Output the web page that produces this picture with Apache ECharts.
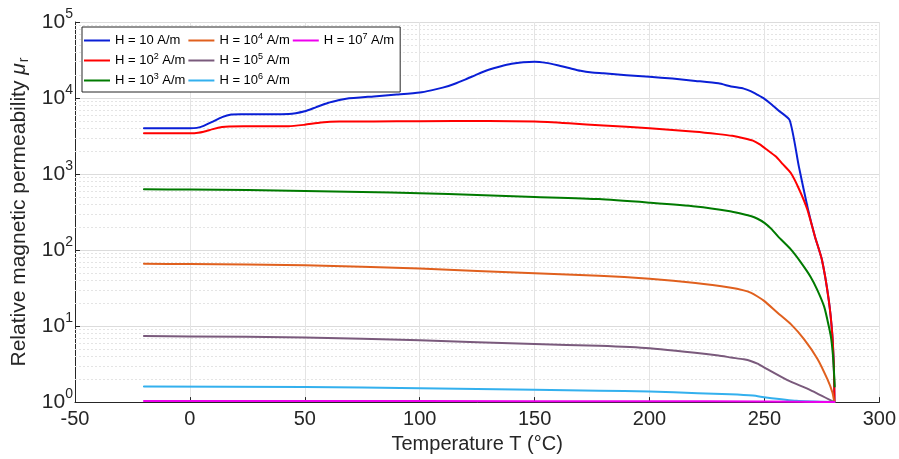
<!DOCTYPE html>
<html><head><meta charset="utf-8">
<script src="https://cdn.jsdelivr.net/npm/echarts@6/dist/echarts.min.js"></script>
<style>html,body{margin:0;padding:0;background:#fff}#c{width:899px;height:459px}</style>
</head><body><div id="c"></div>
<script>
// ---- data ----
const seriesNames = ['H = 10 A/m', 'H = 10^2 A/m', 'H = 10^3 A/m', 'H = 10^4 A/m', 'H = 10^5 A/m', 'H = 10^6 A/m', 'H = 10^7 A/m'];

const tH1 = [-20, 0, 3, 6, 10, 14, 18, 22, 30, 43, 50, 55, 60, 65, 68, 80, 90, 100, 105, 110, 115, 120, 125, 130, 135, 140, 145, 150, 155, 160, 165, 170, 175, 180, 190, 200, 210, 220, 230, 235.5, 241, 244, 247, 250, 253, 256, 261, 265, 269, 272, 275, 278, 279.5, 280.2, 280.5];
const muH1 = [4000, 4000, 4050, 4300, 4900, 5600, 6050, 6100, 6100, 6150, 6700, 7600, 8600, 9400, 9800, 10500, 11100, 11800, 12600, 13700, 15300, 17600, 20500, 23500, 26000, 28200, 29500, 30000, 29000, 27000, 24800, 22800, 21700, 21200, 20000, 19000, 18000, 16800, 15600, 14200, 13300, 12300, 11000, 9750, 8300, 6900, 5100, 1250, 340, 150, 75, 22, 8, 3, 1];

const tH2 = [-20, 2, 6, 10, 14, 17, 30, 43, 50, 57, 65, 80, 100, 130, 150, 165, 180, 200, 220, 230, 236, 241, 245, 248, 251, 255, 258, 261.5, 265, 268.7, 272, 275, 278, 279.5, 280.2, 280.5];
const muH2 = [3450, 3450, 3600, 3900, 4150, 4220, 4250, 4250, 4450, 4750, 4900, 4920, 4950, 5000, 4900, 4650, 4350, 4000, 3600, 3350, 3180, 2960, 2750, 2450, 2100, 1700, 1350, 1030, 640, 340, 150, 75, 22, 8, 3, 1];

const tH3 = [-20, 0, 25, 50, 75, 100, 125, 150, 178, 200, 220, 235, 240, 244, 247, 250, 253, 256, 261.5, 266, 270, 273, 276, 278, 279.1, 280, 280.6];
const muH3 = [630, 625, 615, 600, 580, 560, 530, 500, 468, 420, 375, 325, 300, 280, 258, 228, 190, 150, 102, 68, 45, 30, 18, 10, 6.7, 3.5, 1.6];

const tH4 = [-20, 0, 50, 100, 150, 178, 200, 220, 235.5, 241, 244, 247, 250, 255.7, 261.5, 267.3, 273.1, 277.4, 279.6, 280.4];
const muH4 = [66, 65.5, 63, 57, 49.5, 46, 42, 37, 32, 29.5, 27.5, 24.5, 21.3, 15, 10.6, 6.7, 3.7, 2.0, 1.34, 1];

const tH5 = [-20, 0, 50, 100, 150, 178, 200, 230, 235.5, 241, 244, 247, 250, 260, 270, 280.4];
const muH5 = [7.4, 7.3, 7.1, 6.5, 5.8, 5.5, 5.1, 4.1, 3.86, 3.65, 3.48, 3.2, 2.85, 1.95, 1.44, 1];

const tH6 = [-20, 50, 100, 150, 178, 200, 221, 235, 245, 250.7, 264, 280.4];
const muH6 = [1.61, 1.58, 1.52, 1.45, 1.41, 1.38, 1.31, 1.27, 1.22, 1.15, 1.04, 1];

const tH7 = [-20, 100, 200, 250, 280.4];
const muH7 = [1.03, 1.03, 1.025, 1.02, 1];

const xTicks = [-50, 0, 50, 100, 150, 200, 250, 300];
const yDecades = [0, 1, 2, 3, 4, 5];

// ---- styling ----
const colors = ['#0a1fd6', '#ff0000', '#007a00', '#e0601e', '#7a5a7c', '#33b0ee', '#ee00ee'];
const tArr = [tH1, tH2, tH3, tH4, tH5, tH6, tH7];
const muArr = [muH1, muH2, muH3, muH4, muH5, muH6, muH7];

const minorVals = [];
yDecades.slice(0, -1).forEach(d => { for (let k = 2; k <= 9; k++) minorVals.push(k * Math.pow(10, d)); });

const FONT = 'Liberation Sans';
const series = seriesNames.map((nm, i) => ({
  name: nm,
  type: 'line',
  data: tArr[i].map((t, j) => [t, muArr[i][j]]),
  showSymbol: false,
  symbol: 'none',
  smooth: 0.2,
  lineStyle: { color: colors[i], width: 2, join: 'round', cap: 'round' },
  itemStyle: { color: colors[i] },
  z: 3
}));
series.unshift({
  name: '_minor',
  type: 'line',
  data: [],
  silent: true,
  z: 1,
  markLine: {
    silent: true,
    z: 1,
    symbol: ['none', 'none'],
    label: { show: false },
    animation: false,
    lineStyle: { type: [2, 2], color: '#e4e4e4', width: 1 },
    emphasis: { disabled: true },
    data: minorVals.map(v => ({ yAxis: v }))
  }
});

const chart = echarts.init(document.getElementById('c'));
chart.setOption({
  animation: false,
  backgroundColor: '#ffffff',
  textStyle: { fontFamily: FONT },
  grid: { left: 75, right: 17, top: 22, bottom: 56 },
  legend: {
    data: seriesNames,
    orient: 'vertical',
    left: 82,
    top: 27,
    height: 60,
    padding: [5, 6, 3, 2],
    itemGap: 3,
    itemWidth: 26,
    itemHeight: 14,
    z: 10,
    backgroundColor: '#ffffff',
    borderColor: '#262626',
    borderWidth: 1,
    borderRadius: 0,
    icon: 'path://M0,6 L26,6 L26,8 L0,8 Z',
    textStyle: {
      fontFamily: FONT, fontSize: 13, color: '#000', lineHeight: 17,
      rich: { sup: { fontFamily: FONT, fontSize: 9, color: '#000', padding: [0, 0, 7, 0] } }
    },
    formatter: n => n.replace(/\^(\d)/, '{sup|$1}')
  },
  xAxis: {
    type: 'value', min: -50, max: 300, interval: 50,
    name: 'Temperature T (°C)', nameLocation: 'middle', nameGap: 26,
    nameTextStyle: { fontFamily: FONT, fontSize: 20, color: '#262626' },
    axisLine: { show: true, onZero: false, lineStyle: { color: '#262626', width: 1 } },
    axisTick: { show: true, inside: true, length: 5, lineStyle: { color: '#262626' } },
    axisLabel: { fontFamily: FONT, fontSize: 20, color: '#262626', margin: 7 },
    splitLine: { show: true, lineStyle: { color: '#e4e4e4', width: 1 } }
  },
  yAxis: {
    type: 'log', logBase: 10, min: 1, max: 100000, splitNumber: 5,
    name: 'Relative magnetic permeability {mu|μ}{sub|r}', nameLocation: 'middle', nameGap: 43,
    nameTextStyle: {
      fontFamily: FONT, fontSize: 21, color: '#262626',
      rich: {
        mu: { fontFamily: FONT, fontSize: 21, fontStyle: 'italic', color: '#262626' },
        sub: { fontFamily: FONT, fontSize: 14, color: '#262626', padding: [10, 0, 0, 1] }
      }
    },
    axisLine: { show: true, onZero: false, lineStyle: { color: '#262626', width: 1 } },
    axisTick: { show: true, inside: true, length: 5, lineStyle: { color: '#262626' } },
    axisLabel: {
      fontFamily: FONT, fontSize: 21, color: '#262626', margin: 2,
      formatter: v => '10{sup|' + Math.round(Math.log10(v)) + '}',
      rich: { sup: { fontFamily: FONT, fontSize: 14, color: '#262626', padding: [0, 0, 16, 0] } }
    },
    splitLine: { show: true, lineStyle: { color: '#dcdcdc', width: 1 } }
  },
  series: series
});
</script>
</body></html>
